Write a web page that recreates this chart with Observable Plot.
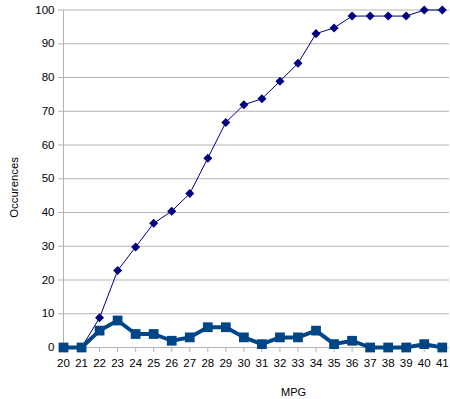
<!DOCTYPE html>
<html>
<head>
<meta charset="utf-8">
<script src="https://cdn.jsdelivr.net/npm/d3@7"></script>
<script src="https://cdn.jsdelivr.net/npm/@observablehq/plot@0.6"></script>
<style>
  html, body { margin: 0; padding: 0; background: #fff; }
  #chart { width: 450px; height: 399px; }
</style>
</head>
<body>
<div id="chart"></div>
<script>
const mpg = [20,21,22,23,24,25,26,27,28,29,30,31,32,33,34,35,36,37,38,39,40,41];
const frequency = [0,0,5,8,4,4,2,3,6,6,3,1,3,3,5,1,2,0,0,0,1,0];
const cumulative = [0,0,8.8,22.8,29.8,36.8,40.4,45.6,56.1,66.7,71.9,73.7,78.9,84.2,93.0,94.7,98.2,98.2,98.2,98.2,100,100];
const yTicks = [0,10,20,30,40,50,60,70,80,90,100];
const xTitle = "MPG";
const yTitle = "Occurences";

const rows = mpg.map((m, i) => ({mpg: m, freq: frequency[i], cum: cumulative[i]}));

const chart = Plot.plot({
  width: 450,
  height: 399,
  marginLeft: 63,
  marginRight: 1,
  marginTop: 9.5,
  marginBottom: 52,
  style: {fontFamily: "'Liberation Sans', Arial, sans-serif", fontSize: "11.5px", color: "#000", background: "#fff"},
  x: {type: "linear", domain: [20, 41.4], label: null},
  y: {domain: [0, 100], label: null},
  marks: [
    Plot.ruleY(yTicks, {stroke: "#b3b3b3", strokeWidth: 1}),
    Plot.ruleX([20], {stroke: "#b3b3b3", strokeWidth: 1}),
    Plot.axisY({ticks: yTicks, tickSize: 5, tickPadding: 4, stroke: "#b3b3b3", fontSize: "11.5px"}),
    Plot.axisX({ticks: mpg, tickFormat: d => String(d), tickSize: 5, tickPadding: 6, stroke: "#b3b3b3", fontSize: "11.5px"}),
    Plot.line(rows, {x: "mpg", y: "cum", stroke: "#000080", strokeWidth: 1}),
    Plot.dot(rows, {x: "mpg", y: "cum", symbol: "square", rotate: 45, r: 3.6, fill: "#000080", stroke: "none"}),
    Plot.line(rows, {x: "mpg", y: "freq", stroke: "#004586", strokeWidth: 4, strokeLinejoin: "round"}),
    Plot.dot(rows, {x: "mpg", y: "freq", symbol: "square", r: 5.5, fill: "#004586", stroke: "none"}),
    Plot.text([xTitle], {frameAnchor: "bottom", dx: 37, dy: 48, fontSize: 11, fill: "#000"}),
    Plot.text([yTitle], {frameAnchor: "left", dx: -49, dy: 39, rotate: -90, fontSize: 11.4, fill: "#000"})
  ]
});
document.getElementById("chart").appendChild(chart);
</script>
</body>
</html>
